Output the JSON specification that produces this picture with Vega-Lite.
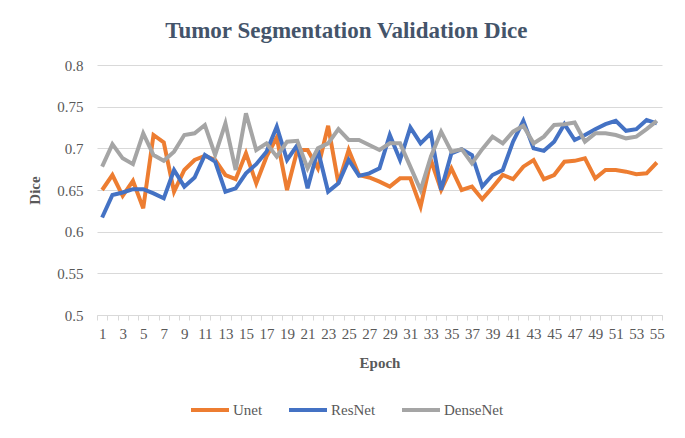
{
  "$schema": "https://vega.github.io/schema/vega-lite/v6.json",
  "width": 565,
  "height": 250,
  "padding": {"left": 27, "top": 20, "right": 20, "bottom": 10},
  "background": "white",
  "title": {"text": "Tumor Segmentation Validation Dice", "font": "Liberation Serif", "fontSize": 23, "fontWeight": "bold", "color": "#44546A", "offset": 15, "anchor": "middle", "frame": "bounds"},
  "config": {"view": {"stroke": null}},
  "datasets": {
    "d": [
      {"epoch":1,"model":"Unet","dice":0.650},{"epoch":2,"model":"Unet","dice":0.668},{"epoch":3,"model":"Unet","dice":0.643},{"epoch":4,"model":"Unet","dice":0.661},{"epoch":5,"model":"Unet","dice":0.628},{"epoch":6,"model":"Unet","dice":0.716},{"epoch":7,"model":"Unet","dice":0.707},{"epoch":8,"model":"Unet","dice":0.648},{"epoch":9,"model":"Unet","dice":0.674},{"epoch":10,"model":"Unet","dice":0.686},{"epoch":11,"model":"Unet","dice":0.691},{"epoch":12,"model":"Unet","dice":0.686},{"epoch":13,"model":"Unet","dice":0.668},{"epoch":14,"model":"Unet","dice":0.663},{"epoch":15,"model":"Unet","dice":0.694},{"epoch":16,"model":"Unet","dice":0.658},{"epoch":17,"model":"Unet","dice":0.690},{"epoch":18,"model":"Unet","dice":0.713},{"epoch":19,"model":"Unet","dice":0.650},{"epoch":20,"model":"Unet","dice":0.698},{"epoch":21,"model":"Unet","dice":0.698},{"epoch":22,"model":"Unet","dice":0.676},{"epoch":23,"model":"Unet","dice":0.727},{"epoch":24,"model":"Unet","dice":0.658},{"epoch":25,"model":"Unet","dice":0.698},{"epoch":26,"model":"Unet","dice":0.668},{"epoch":27,"model":"Unet","dice":0.665},{"epoch":28,"model":"Unet","dice":0.660},{"epoch":29,"model":"Unet","dice":0.654},{"epoch":30,"model":"Unet","dice":0.664},{"epoch":31,"model":"Unet","dice":0.664},{"epoch":32,"model":"Unet","dice":0.630},{"epoch":33,"model":"Unet","dice":0.686},{"epoch":34,"model":"Unet","dice":0.650},{"epoch":35,"model":"Unet","dice":0.676},{"epoch":36,"model":"Unet","dice":0.650},{"epoch":37,"model":"Unet","dice":0.654},{"epoch":38,"model":"Unet","dice":0.639},{"epoch":39,"model":"Unet","dice":0.653},{"epoch":40,"model":"Unet","dice":0.668},{"epoch":41,"model":"Unet","dice":0.663},{"epoch":42,"model":"Unet","dice":0.678},{"epoch":43,"model":"Unet","dice":0.686},{"epoch":44,"model":"Unet","dice":0.663},{"epoch":45,"model":"Unet","dice":0.668},{"epoch":46,"model":"Unet","dice":0.684},{"epoch":47,"model":"Unet","dice":0.685},{"epoch":48,"model":"Unet","dice":0.688},{"epoch":49,"model":"Unet","dice":0.664},{"epoch":50,"model":"Unet","dice":0.674},{"epoch":51,"model":"Unet","dice":0.674},{"epoch":52,"model":"Unet","dice":0.672},{"epoch":53,"model":"Unet","dice":0.669},{"epoch":54,"model":"Unet","dice":0.670},{"epoch":55,"model":"Unet","dice":0.683},
      {"epoch":1,"model":"ResNet","dice":0.617},{"epoch":2,"model":"ResNet","dice":0.644},{"epoch":3,"model":"ResNet","dice":0.647},{"epoch":4,"model":"ResNet","dice":0.651},{"epoch":5,"model":"ResNet","dice":0.651},{"epoch":6,"model":"ResNet","dice":0.646},{"epoch":7,"model":"ResNet","dice":0.640},{"epoch":8,"model":"ResNet","dice":0.674},{"epoch":9,"model":"ResNet","dice":0.654},{"epoch":10,"model":"ResNet","dice":0.665},{"epoch":11,"model":"ResNet","dice":0.692},{"epoch":12,"model":"ResNet","dice":0.684},{"epoch":13,"model":"ResNet","dice":0.648},{"epoch":14,"model":"ResNet","dice":0.652},{"epoch":15,"model":"ResNet","dice":0.670},{"epoch":16,"model":"ResNet","dice":0.681},{"epoch":17,"model":"ResNet","dice":0.696},{"epoch":18,"model":"ResNet","dice":0.726},{"epoch":19,"model":"ResNet","dice":0.686},{"epoch":20,"model":"ResNet","dice":0.704},{"epoch":21,"model":"ResNet","dice":0.652},{"epoch":22,"model":"ResNet","dice":0.698},{"epoch":23,"model":"ResNet","dice":0.648},{"epoch":24,"model":"ResNet","dice":0.658},{"epoch":25,"model":"ResNet","dice":0.686},{"epoch":26,"model":"ResNet","dice":0.667},{"epoch":27,"model":"ResNet","dice":0.670},{"epoch":28,"model":"ResNet","dice":0.676},{"epoch":29,"model":"ResNet","dice":0.716},{"epoch":30,"model":"ResNet","dice":0.686},{"epoch":31,"model":"ResNet","dice":0.725},{"epoch":32,"model":"ResNet","dice":0.706},{"epoch":33,"model":"ResNet","dice":0.718},{"epoch":34,"model":"ResNet","dice":0.650},{"epoch":35,"model":"ResNet","dice":0.694},{"epoch":36,"model":"ResNet","dice":0.699},{"epoch":37,"model":"ResNet","dice":0.692},{"epoch":38,"model":"ResNet","dice":0.654},{"epoch":39,"model":"ResNet","dice":0.668},{"epoch":40,"model":"ResNet","dice":0.674},{"epoch":41,"model":"ResNet","dice":0.708},{"epoch":42,"model":"ResNet","dice":0.733},{"epoch":43,"model":"ResNet","dice":0.700},{"epoch":44,"model":"ResNet","dice":0.697},{"epoch":45,"model":"ResNet","dice":0.708},{"epoch":46,"model":"ResNet","dice":0.729},{"epoch":47,"model":"ResNet","dice":0.710},{"epoch":48,"model":"ResNet","dice":0.716},{"epoch":49,"model":"ResNet","dice":0.723},{"epoch":50,"model":"ResNet","dice":0.729},{"epoch":51,"model":"ResNet","dice":0.733},{"epoch":52,"model":"ResNet","dice":0.721},{"epoch":53,"model":"ResNet","dice":0.723},{"epoch":54,"model":"ResNet","dice":0.734},{"epoch":55,"model":"ResNet","dice":0.730},
      {"epoch":1,"model":"DenseNet","dice":0.678},{"epoch":2,"model":"DenseNet","dice":0.705},{"epoch":3,"model":"DenseNet","dice":0.688},{"epoch":4,"model":"DenseNet","dice":0.681},{"epoch":5,"model":"DenseNet","dice":0.718},{"epoch":6,"model":"DenseNet","dice":0.692},{"epoch":7,"model":"DenseNet","dice":0.685},{"epoch":8,"model":"DenseNet","dice":0.696},{"epoch":9,"model":"DenseNet","dice":0.716},{"epoch":10,"model":"DenseNet","dice":0.718},{"epoch":11,"model":"DenseNet","dice":0.728},{"epoch":12,"model":"DenseNet","dice":0.692},{"epoch":13,"model":"DenseNet","dice":0.730},{"epoch":14,"model":"DenseNet","dice":0.674},{"epoch":15,"model":"DenseNet","dice":0.742},{"epoch":16,"model":"DenseNet","dice":0.698},{"epoch":17,"model":"DenseNet","dice":0.706},{"epoch":18,"model":"DenseNet","dice":0.690},{"epoch":19,"model":"DenseNet","dice":0.708},{"epoch":20,"model":"DenseNet","dice":0.709},{"epoch":21,"model":"DenseNet","dice":0.676},{"epoch":22,"model":"DenseNet","dice":0.700},{"epoch":23,"model":"DenseNet","dice":0.706},{"epoch":24,"model":"DenseNet","dice":0.723},{"epoch":25,"model":"DenseNet","dice":0.710},{"epoch":26,"model":"DenseNet","dice":0.710},{"epoch":27,"model":"DenseNet","dice":0.704},{"epoch":28,"model":"DenseNet","dice":0.698},{"epoch":29,"model":"DenseNet","dice":0.706},{"epoch":30,"model":"DenseNet","dice":0.706},{"epoch":31,"model":"DenseNet","dice":0.678},{"epoch":32,"model":"DenseNet","dice":0.650},{"epoch":33,"model":"DenseNet","dice":0.690},{"epoch":34,"model":"DenseNet","dice":0.720},{"epoch":35,"model":"DenseNet","dice":0.696},{"epoch":36,"model":"DenseNet","dice":0.699},{"epoch":37,"model":"DenseNet","dice":0.682},{"epoch":38,"model":"DenseNet","dice":0.699},{"epoch":39,"model":"DenseNet","dice":0.714},{"epoch":40,"model":"DenseNet","dice":0.706},{"epoch":41,"model":"DenseNet","dice":0.720},{"epoch":42,"model":"DenseNet","dice":0.727},{"epoch":43,"model":"DenseNet","dice":0.706},{"epoch":44,"model":"DenseNet","dice":0.714},{"epoch":45,"model":"DenseNet","dice":0.728},{"epoch":46,"model":"DenseNet","dice":0.729},{"epoch":47,"model":"DenseNet","dice":0.731},{"epoch":48,"model":"DenseNet","dice":0.708},{"epoch":49,"model":"DenseNet","dice":0.718},{"epoch":50,"model":"DenseNet","dice":0.718},{"epoch":51,"model":"DenseNet","dice":0.716},{"epoch":52,"model":"DenseNet","dice":0.712},{"epoch":53,"model":"DenseNet","dice":0.714},{"epoch":54,"model":"DenseNet","dice":0.723},{"epoch":55,"model":"DenseNet","dice":0.733}
    ]
  },
  "data": {"name": "d"},
  "mark": {"type": "line", "strokeWidth": 4, "strokeJoin": "miter"},
  "encoding": {
    "x": {
      "field": "epoch", "type": "ordinal", "title": "Epoch",
      "scale": {"paddingInner": 0, "paddingOuter": 0},
      "axis": {
        "labelAngle": 0, "labelFont": "Liberation Serif", "labelFontSize": 15, "labelColor": "#595959",
        "labelExpr": "datum.value % 2 == 1 ? datum.label : ''", "labelOverlap": false, "labelPadding": 6,
        "titleFont": "Liberation Serif", "titleFontSize": 15, "titleFontWeight": "bold", "titleColor": "#595959", "titlePadding": 14,
        "domainColor": "#D9D9D9", "tickColor": "#D9D9D9", "tickSize": 5, "tickBand": "extent", "grid": false
      }
    },
    "y": {
      "field": "dice", "type": "quantitative", "title": "Dice",
      "scale": {"domain": [0.5, 0.8], "nice": false, "zero": false},
      "axis": {
        "values": [0.5, 0.55, 0.6, 0.65, 0.7, 0.75, 0.8], "format": "~g",
        "labelFont": "Liberation Serif", "labelFontSize": 15, "labelColor": "#595959", "labelPadding": 14,
        "titleFont": "Liberation Serif", "titleFontSize": 15, "titleFontWeight": "bold", "titleColor": "#595959", "titlePadding": 14,
        "domain": false, "ticks": false, "gridColor": "#D9D9D9", "gridWidth": 1
      }
    },
    "color": {
      "field": "model", "type": "nominal",
      "scale": {"domain": ["Unet", "ResNet", "DenseNet"], "range": ["#ED7D31", "#4472C4", "#A5A5A5"]},
      "legend": {
        "orient": "none", "legendX": 92, "legendY": 324, "direction": "horizontal", "title": null,
        "labelFont": "Liberation Serif", "labelFontSize": 15, "labelColor": "#595959",
        "symbolType": "stroke", "symbolStrokeWidth": 4, "symbolSize": 1444, "columnPadding": 18, "labelOffset": 2
      }
    }
  }
}
